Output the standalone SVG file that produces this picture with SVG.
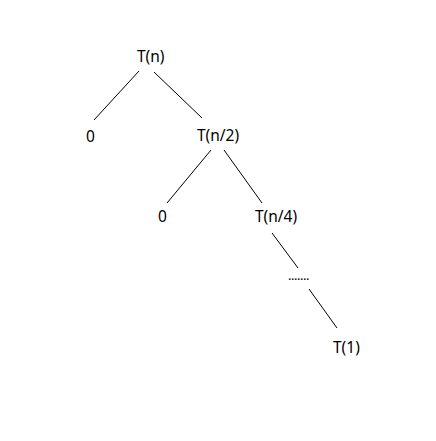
<svg xmlns="http://www.w3.org/2000/svg" width="436" height="441" viewBox="0 0 436 441">
<style>
text{font-family:"Noto Sans","Open Sans",sans-serif;font-size:15.5px;fill:#000}
.e{stroke:#000;stroke-width:1;fill:none}
</style>
<rect width="436" height="441" fill="#fff"/>
<g id="connectors">
<line class="e" x1="139" y1="71" x2="94" y2="120"/>
<line class="e" x1="154" y1="72" x2="202" y2="118"/>
<line class="e" x1="211" y1="150" x2="167" y2="203"/>
<line class="e" x1="224" y1="150" x2="262" y2="203"/>
<line class="e" x1="272" y1="233" x2="298" y2="268"/>
<line class="e" x1="309" y1="289" x2="337" y2="328"/>
</g>
<g id="n1"><text x="137" y="62">T(n)</text></g>
<g id="n2"><text x="86" y="142">0</text></g>
<g id="n3"><text x="197" y="141">T(n/2)</text></g>
<g id="n4"><text x="158" y="222">0</text></g>
<g id="n5"><text x="255" y="222">T(n/4)</text></g>
<g id="n6"><text x="288" y="280" style="font-size:13px" letter-spacing="-0.5">.......</text></g>
<g id="n7"><text x="333" y="353">T(1)</text></g>
</svg>
